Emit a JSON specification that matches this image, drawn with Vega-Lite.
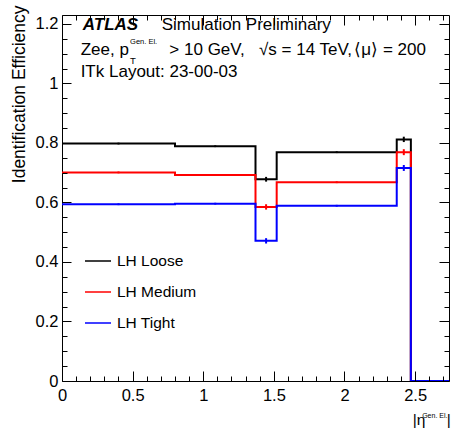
{
  "$schema": "https://vega.github.io/schema/vega-lite/v6.json",
  "autosize": {"type": "none"},
  "width": 387,
  "height": 366,
  "padding": {"left": 62, "top": 15, "right": 2, "bottom": 52},
  "background": "white",
  "config": {
    "view": {"stroke": "black", "strokeWidth": 1},
    "font": "Liberation Sans"
  },
  "datasets": {
    "eff": [
      {"series": "LH Loose", "eta": 0, "eff": 0.798},
      {"series": "LH Loose", "eta": 0.8, "eff": 0.789},
      {"series": "LH Loose", "eta": 1.37, "eff": 0.678},
      {"series": "LH Loose", "eta": 1.52, "eff": 0.769},
      {"series": "LH Loose", "eta": 2.37, "eff": 0.812},
      {"series": "LH Loose", "eta": 2.47, "eff": 0},
      {"series": "LH Loose", "eta": 2.74, "eff": 0},
      {"series": "LH Medium", "eta": 0, "eff": 0.701},
      {"series": "LH Medium", "eta": 0.8, "eff": 0.692},
      {"series": "LH Medium", "eta": 1.37, "eff": 0.585},
      {"series": "LH Medium", "eta": 1.52, "eff": 0.668},
      {"series": "LH Medium", "eta": 2.37, "eff": 0.769},
      {"series": "LH Medium", "eta": 2.47, "eff": 0},
      {"series": "LH Medium", "eta": 2.74, "eff": 0},
      {"series": "LH Tight", "eta": 0, "eff": 0.594},
      {"series": "LH Tight", "eta": 0.8, "eff": 0.596},
      {"series": "LH Tight", "eta": 1.37, "eff": 0.471},
      {"series": "LH Tight", "eta": 1.52, "eff": 0.589},
      {"series": "LH Tight", "eta": 2.37, "eff": 0.716},
      {"series": "LH Tight", "eta": 2.47, "eff": 0},
      {"series": "LH Tight", "eta": 2.74, "eff": 0}
    ],
    "err": [
      {"series": "LH Loose", "eta": 0.4, "lo": 0.795, "hi": 0.801},
      {"series": "LH Loose", "eta": 1.085, "lo": 0.786, "hi": 0.792},
      {"series": "LH Loose", "eta": 1.445, "lo": 0.670, "hi": 0.686},
      {"series": "LH Loose", "eta": 1.945, "lo": 0.766, "hi": 0.772},
      {"series": "LH Loose", "eta": 2.42, "lo": 0.803, "hi": 0.821},
      {"series": "LH Medium", "eta": 0.4, "lo": 0.698, "hi": 0.704},
      {"series": "LH Medium", "eta": 1.085, "lo": 0.689, "hi": 0.695},
      {"series": "LH Medium", "eta": 1.445, "lo": 0.576, "hi": 0.594},
      {"series": "LH Medium", "eta": 1.945, "lo": 0.665, "hi": 0.671},
      {"series": "LH Medium", "eta": 2.42, "lo": 0.759, "hi": 0.779},
      {"series": "LH Tight", "eta": 0.4, "lo": 0.591, "hi": 0.597},
      {"series": "LH Tight", "eta": 1.085, "lo": 0.593, "hi": 0.599},
      {"series": "LH Tight", "eta": 1.445, "lo": 0.462, "hi": 0.480},
      {"series": "LH Tight", "eta": 1.945, "lo": 0.586, "hi": 0.592},
      {"series": "LH Tight", "eta": 2.42, "lo": 0.706, "hi": 0.726}
    ]
  },
  "layer": [
    {
      "data": {"name": "eff"},
      "mark": {"type": "line", "interpolate": "step-after", "strokeWidth": 2, "clip": true},
      "encoding": {
        "x": {
          "field": "eta", "type": "quantitative",
          "scale": {"domain": [0, 2.74], "nice": false, "zero": false},
          "axis": {
            "orient": "bottom", "title": null, "domain": false, "grid": false,
            "values": [0, 0.5, 1, 1.5, 2, 2.5], "format": "~g",
            "offset": -10, "tickSize": 10, "tickColor": "black", "tickWidth": 1, "zindex": 2,
            "labelOverlap": false, "labelFlush": false,
            "labelFont": "Liberation Sans", "labelFontSize": 16.5, "labelColor": "black",
            "labelPadding": 6
          }
        },
        "y": {
          "field": "eff", "type": "quantitative",
          "scale": {"domain": [0, 1.23], "nice": false, "zero": false},
          "axis": {
            "orient": "left", "grid": false, "domain": false,
            "title": "Identification Efficiency",
            "titleFont": "Liberation Sans", "titleFontSize": 17.5, "titleFontWeight": "normal", "titleColor": "black",
            "titleAngle": 270, "titleAlign": "right", "titleBaseline": "alphabetic",
            "titleX": -47, "titleY": -10,
            "values": [0, 0.2, 0.4, 0.6, 0.8, 1, 1.2], "format": "~g",
            "offset": -9, "tickSize": 9, "tickColor": "black", "tickWidth": 1, "zindex": 2,
            "labelOverlap": false, "labelFlush": false,
            "labelFont": "Liberation Sans", "labelFontSize": 16.5, "labelColor": "black",
            "labelPadding": 4
          }
        },
        "color": {
          "field": "series", "type": "nominal",
          "scale": {"domain": ["LH Loose", "LH Medium", "LH Tight"], "range": ["#000000", "#ff0000", "#0000ff"]},
          "legend": {
            "orient": "none", "legendX": 22, "legendY": 232, "title": null,
            "symbolType": "stroke", "symbolSize": 676, "symbolStrokeWidth": 1.5,
            "labelFont": "Liberation Sans", "labelFontSize": 15.5, "labelColor": "black",
            "labelOffset": 5, "rowPadding": 8
          }
        },
        "order": {"field": "eta", "type": "quantitative"}
      }
    },
    {
      "data": {"name": "err"},
      "mark": {"type": "rule", "strokeWidth": 2},
      "encoding": {
        "x": {
          "field": "eta", "type": "quantitative",
          "scale": {"domain": [0, 2.74], "nice": false, "zero": false},
          "axis": {
            "orient": "top", "title": null, "domain": false, "grid": false, "labels": false,
            "values": [0, 0.5, 1, 1.5, 2, 2.5],
            "offset": -10, "tickSize": 10, "tickColor": "black", "tickWidth": 1, "zindex": 2
          }
        },
        "y": {
          "field": "lo", "type": "quantitative",
          "scale": {"domain": [0, 1.23], "nice": false, "zero": false},
          "axis": {
            "orient": "right", "title": null, "domain": false, "grid": false, "labels": false,
            "values": [0, 0.2, 0.4, 0.6, 0.8, 1, 1.2],
            "offset": -10, "tickSize": 10, "tickColor": "black", "tickWidth": 1, "zindex": 2
          }
        },
        "y2": {"field": "hi"},
        "color": {
          "field": "series", "type": "nominal",
          "scale": {"domain": ["LH Loose", "LH Medium", "LH Tight"], "range": ["#000000", "#ff0000", "#0000ff"]},
          "legend": {
            "orient": "none", "legendX": 22, "legendY": 232, "title": null,
            "symbolType": "stroke", "symbolSize": 676, "symbolStrokeWidth": 1.5,
            "labelFont": "Liberation Sans", "labelFontSize": 15.5, "labelColor": "black",
            "labelOffset": 5, "rowPadding": 8
          }
        }
      }
    },
    {
      "data": {"name": "err"},
      "mark": {"type": "point", "opacity": 0},
      "encoding": {
        "x": {
          "field": "eta", "type": "quantitative",
          "scale": {"domain": [0, 2.74], "nice": false, "zero": false},
          "axis": {
            "orient": "bottom", "title": null, "domain": false, "grid": false, "labels": false,
            "values": [0.1,0.2,0.3,0.4,0.6,0.7,0.8,0.9,1.1,1.2,1.3,1.4,1.6,1.7,1.8,1.9,2.1,2.2,2.3,2.4,2.6,2.7],
            "offset": -5, "tickSize": 5, "tickColor": "black", "tickWidth": 1, "zindex": 2
          }
        },
        "y": {
          "field": "lo", "type": "quantitative",
          "scale": {"domain": [0, 1.23], "nice": false, "zero": false},
          "axis": {
            "orient": "left", "title": null, "domain": false, "grid": false, "labels": false,
            "values": [0.05,0.1,0.15,0.25,0.3,0.35,0.45,0.5,0.55,0.65,0.7,0.75,0.85,0.9,0.95,1.05,1.1,1.15],
            "offset": -5, "tickSize": 5, "tickColor": "black", "tickWidth": 1, "zindex": 2
          }
        }
      }
    },
    {
      "data": {"name": "err"},
      "mark": {"type": "point", "opacity": 0},
      "encoding": {
        "x": {
          "field": "eta", "type": "quantitative",
          "scale": {"domain": [0, 2.74], "nice": false, "zero": false},
          "axis": {
            "orient": "top", "title": null, "domain": false, "grid": false, "labels": false,
            "values": [0.1,0.2,0.3,0.4,0.6,0.7,0.8,0.9,1.1,1.2,1.3,1.4,1.6,1.7,1.8,1.9,2.1,2.2,2.3,2.4,2.6,2.7],
            "offset": -5, "tickSize": 5, "tickColor": "black", "tickWidth": 1, "zindex": 2
          }
        },
        "y": {
          "field": "lo", "type": "quantitative",
          "scale": {"domain": [0, 1.23], "nice": false, "zero": false},
          "axis": {
            "orient": "right", "title": null, "domain": false, "grid": false, "labels": false,
            "values": [0.05,0.1,0.15,0.25,0.3,0.35,0.45,0.5,0.55,0.65,0.7,0.75,0.85,0.9,0.95,1.05,1.1,1.15],
            "offset": -5, "tickSize": 5, "tickColor": "black", "tickWidth": 1, "zindex": 2
          }
        }
      }
    },
    {
      "data": {"values": [{"t": "ATLAS"}]},
      "mark": {"type": "text", "align": "left", "baseline": "alphabetic", "font": "Liberation Sans", "fontSize": 17, "fontStyle": "italic", "fontWeight": "bold", "color": "black"},
      "encoding": {
        "x": {"datum": 0.147, "type": "quantitative", "scale": {"domain": [0, 2.74], "nice": false, "zero": false}, "axis": null},
        "y": {"datum": 1.18, "type": "quantitative", "scale": {"domain": [0, 1.23], "nice": false, "zero": false}, "axis": null},
        "text": {"field": "t"}
      }
    },
    {
      "data": {"values": [{"t": "Simulation Preliminary"}]},
      "mark": {"type": "text", "align": "left", "baseline": "alphabetic", "font": "Liberation Sans", "fontSize": 17, "color": "black"},
      "encoding": {
        "x": {"datum": 0.706, "type": "quantitative", "scale": {"domain": [0, 2.74], "nice": false, "zero": false}, "axis": null},
        "y": {"datum": 1.18, "type": "quantitative", "scale": {"domain": [0, 1.23], "nice": false, "zero": false}, "axis": null},
        "text": {"field": "t"}
      }
    },
    {
      "data": {"values": [{"t": "Zee, p"}]},
      "mark": {"type": "text", "align": "left", "baseline": "alphabetic", "font": "Liberation Sans", "fontSize": 17, "color": "black"},
      "encoding": {
        "x": {"datum": 0.132, "type": "quantitative", "scale": {"domain": [0, 2.74], "nice": false, "zero": false}, "axis": null},
        "y": {"datum": 1.096, "type": "quantitative", "scale": {"domain": [0, 1.23], "nice": false, "zero": false}, "axis": null},
        "text": {"field": "t"}
      }
    },
    {
      "data": {"values": [{"t": "Gen. El."}]},
      "mark": {"type": "text", "align": "left", "baseline": "alphabetic", "font": "Liberation Sans", "fontSize": 7.5, "color": "black"},
      "encoding": {
        "x": {"datum": 0.482, "type": "quantitative", "scale": {"domain": [0, 2.74], "nice": false, "zero": false}, "axis": null},
        "y": {"datum": 1.132, "type": "quantitative", "scale": {"domain": [0, 1.23], "nice": false, "zero": false}, "axis": null},
        "text": {"field": "t"}
      }
    },
    {
      "data": {"values": [{"t": "T"}]},
      "mark": {"type": "text", "align": "left", "baseline": "alphabetic", "font": "Liberation Sans", "fontSize": 9.5, "color": "black"},
      "encoding": {
        "x": {"datum": 0.482, "type": "quantitative", "scale": {"domain": [0, 2.74], "nice": false, "zero": false}, "axis": null},
        "y": {"datum": 1.066, "type": "quantitative", "scale": {"domain": [0, 1.23], "nice": false, "zero": false}, "axis": null},
        "text": {"field": "t"}
      }
    },
    {
      "data": {"values": [{"t": "> 10 GeV,"}]},
      "mark": {"type": "text", "align": "left", "baseline": "alphabetic", "font": "Liberation Sans", "fontSize": 17, "color": "black"},
      "encoding": {
        "x": {"datum": 0.76, "type": "quantitative", "scale": {"domain": [0, 2.74], "nice": false, "zero": false}, "axis": null},
        "y": {"datum": 1.096, "type": "quantitative", "scale": {"domain": [0, 1.23], "nice": false, "zero": false}, "axis": null},
        "text": {"field": "t"}
      }
    },
    {
      "data": {"values": [{"t": "√s = 14 TeV,"}]},
      "mark": {"type": "text", "align": "left", "baseline": "alphabetic", "font": "Liberation Sans", "fontSize": 17, "color": "black"},
      "encoding": {
        "x": {"datum": 1.395, "type": "quantitative", "scale": {"domain": [0, 2.74], "nice": false, "zero": false}, "axis": null},
        "y": {"datum": 1.096, "type": "quantitative", "scale": {"domain": [0, 1.23], "nice": false, "zero": false}, "axis": null},
        "text": {"field": "t"}
      }
    },
    {
      "data": {"values": [{"t": "⟨μ⟩ = 200"}]},
      "mark": {"type": "text", "align": "left", "baseline": "alphabetic", "font": "Liberation Sans", "fontSize": 17, "color": "black"},
      "encoding": {
        "x": {"datum": 2.07, "type": "quantitative", "scale": {"domain": [0, 2.74], "nice": false, "zero": false}, "axis": null},
        "y": {"datum": 1.096, "type": "quantitative", "scale": {"domain": [0, 1.23], "nice": false, "zero": false}, "axis": null},
        "text": {"field": "t"}
      }
    },
    {
      "data": {"values": [{"t": "ITk Layout: 23-00-03"}]},
      "mark": {"type": "text", "align": "left", "baseline": "alphabetic", "font": "Liberation Sans", "fontSize": 17, "color": "black"},
      "encoding": {
        "x": {"datum": 0.132, "type": "quantitative", "scale": {"domain": [0, 2.74], "nice": false, "zero": false}, "axis": null},
        "y": {"datum": 1.023, "type": "quantitative", "scale": {"domain": [0, 1.23], "nice": false, "zero": false}, "axis": null},
        "text": {"field": "t"}
      }
    },
    {
      "data": {"values": [{"t": "|η"}]},
      "mark": {"type": "text", "align": "left", "baseline": "alphabetic", "font": "Liberation Sans", "fontSize": 15.5, "color": "black"},
      "encoding": {
        "x": {"datum": 2.484, "type": "quantitative", "scale": {"domain": [0, 2.74], "nice": false, "zero": false}, "axis": null},
        "y": {"datum": -0.148, "type": "quantitative", "scale": {"domain": [0, 1.23], "nice": false, "zero": false}, "axis": null},
        "text": {"field": "t"}
      }
    },
    {
      "data": {"values": [{"t": "Gen. El."}]},
      "mark": {"type": "text", "align": "left", "baseline": "alphabetic", "font": "Liberation Sans", "fontSize": 7, "color": "black"},
      "encoding": {
        "x": {"datum": 2.55, "type": "quantitative", "scale": {"domain": [0, 2.74], "nice": false, "zero": false}, "axis": null},
        "y": {"datum": -0.124, "type": "quantitative", "scale": {"domain": [0, 1.23], "nice": false, "zero": false}, "axis": null},
        "text": {"field": "t"}
      }
    },
    {
      "data": {"values": [{"t": "|"}]},
      "mark": {"type": "text", "align": "center", "baseline": "alphabetic", "font": "Liberation Sans", "fontSize": 15.5, "color": "black"},
      "encoding": {
        "x": {"datum": 2.739, "type": "quantitative", "scale": {"domain": [0, 2.74], "nice": false, "zero": false}, "axis": null},
        "y": {"datum": -0.148, "type": "quantitative", "scale": {"domain": [0, 1.23], "nice": false, "zero": false}, "axis": null},
        "text": {"field": "t"}
      }
    }
  ],
  "resolve": {"axis": {"x": "independent", "y": "independent"}}
}
